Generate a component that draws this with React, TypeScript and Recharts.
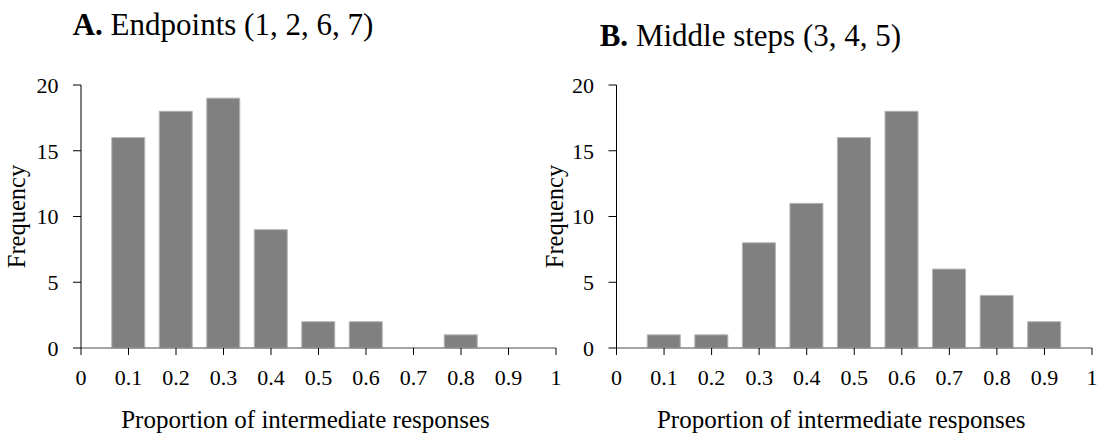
import { BarChart, Bar, XAxis, YAxis } from 'recharts'

// bin centres (proportion of intermediate responses)
const bins = [0.1, 0.2, 0.3, 0.4, 0.5, 0.6, 0.7, 0.8, 0.9]
// A. Endpoints (1, 2, 6, 7)
const endpointCounts = [16, 18, 19, 9, 2, 2, 0, 1, 0]
// B. Middle steps (3, 4, 5)
const middleCounts = [1, 1, 8, 11, 16, 18, 6, 4, 2]

const xTicks = [0, 0.1, 0.2, 0.3, 0.4, 0.5, 0.6, 0.7, 0.8, 0.9, 1]
const yTicks = [0, 5, 10, 15, 20]

const FONT = '"Liberation Serif", "Times New Roman", serif'
const TICK_FS = 22

// x tick: label hangs below the tick mark
const XTick = ({ x, y, payload }: any) => (
  <text x={x} y={y + TICK_FS * 0.68} textAnchor="middle" fontSize={TICK_FS} fontFamily={FONT} fill="#000">
    {String(payload.value)}
  </text>
)

// y tick: right aligned, vertically centred on the tick
const YTick = ({ x, y, payload }: any) => (
  <text x={x} y={y + TICK_FS * 0.36} textAnchor="end" fontSize={TICK_FS} fontFamily={FONT} fill="#000">
    {String(payload.value)}
  </text>
)

interface HistogramProps {
  counts: number[]
  left: number
  width: number
  marginLeft: number
  marginRight: number
  yLabelX: number
}

function Histogram({ counts, left, width, marginLeft, marginRight, yLabelX }: HistogramProps) {
  const data = bins.map((bin, i) => ({ bin, count: counts[i] }))

  return (
    <div style={{ position: 'absolute', left, top: 0 }}>
      <BarChart
        width={width}
        height={435}
        data={data}
        margin={{ top: 85, right: marginRight, bottom: 7, left: marginLeft }}
      >
        <XAxis
          type="number"
          dataKey="bin"
          domain={[0, 1]}
          ticks={xTicks}
          interval={0}
          height={80}
          tickSize={7}
          tickMargin={15}
          axisLine={{ stroke: '#868686', strokeWidth: 1.5 }}
          tickLine={{ stroke: '#000' }}
          tick={<XTick />}
          label={{
            content: ({ viewBox }: any) => (
              <text
                x={viewBox.x + viewBox.width / 2 - 13}
                y={viewBox.y + viewBox.height}
                textAnchor="middle"
                fontSize={25}
                fontFamily={FONT}
                fill="#000"
              >
                Proportion of intermediate responses
              </text>
            ),
          }}
        />
        <YAxis
          type="number"
          domain={[0, 20]}
          ticks={yTicks}
          interval={0}
          width={70}
          tickSize={8}
          tickMargin={14.5}
          axisLine={{ stroke: '#000' }}
          tickLine={{ stroke: '#000' }}
          tick={<YTick />}
          label={{
            content: ({ viewBox }: any) => {
              const cy = viewBox.y + viewBox.height / 2
              return (
                <text
                  x={yLabelX}
                  y={cy}
                  transform={`rotate(-90 ${yLabelX} ${cy})`}
                  textAnchor="middle"
                  fontSize={24.5}
                  fontFamily={FONT}
                  fill="#000"
                >
                  Frequency
                </text>
              )
            },
          }}
        />
        <Bar
          dataKey="count"
          fill="#808080"
          stroke="#b4b4b4"
          strokeWidth={1}
          barSize={33}
          isAnimationActive={false}
        />
      </BarChart>
    </div>
  )
}

export default function App() {
  return (
    <div style={{ position: 'absolute', left: 0, top: 0, width: 1097, height: 435, background: '#fff' }}>
      <Histogram counts={endpointCounts} left={0} width={566} marginLeft={11} marginRight={10} yLabelX={25} />
      <Histogram counts={middleCounts} left={530} width={567} marginLeft={16.5} marginRight={5} yLabelX={33} />
      <svg
        width={1097}
        height={435}
        style={{ position: 'absolute', left: 0, top: 0, pointerEvents: 'none' }}
      >
        <text x={72.7} y={35} fontSize={31} fontFamily={FONT} fill="#000">
          <tspan fontWeight="bold">A.</tspan> Endpoints (1, 2, 6, 7)
        </text>
        <text x={599.7} y={45.5} fontSize={31} fontFamily={FONT} fill="#000">
          <tspan fontWeight="bold">B.</tspan> Middle steps (3, 4, 5)
        </text>
      </svg>
    </div>
  )
}
